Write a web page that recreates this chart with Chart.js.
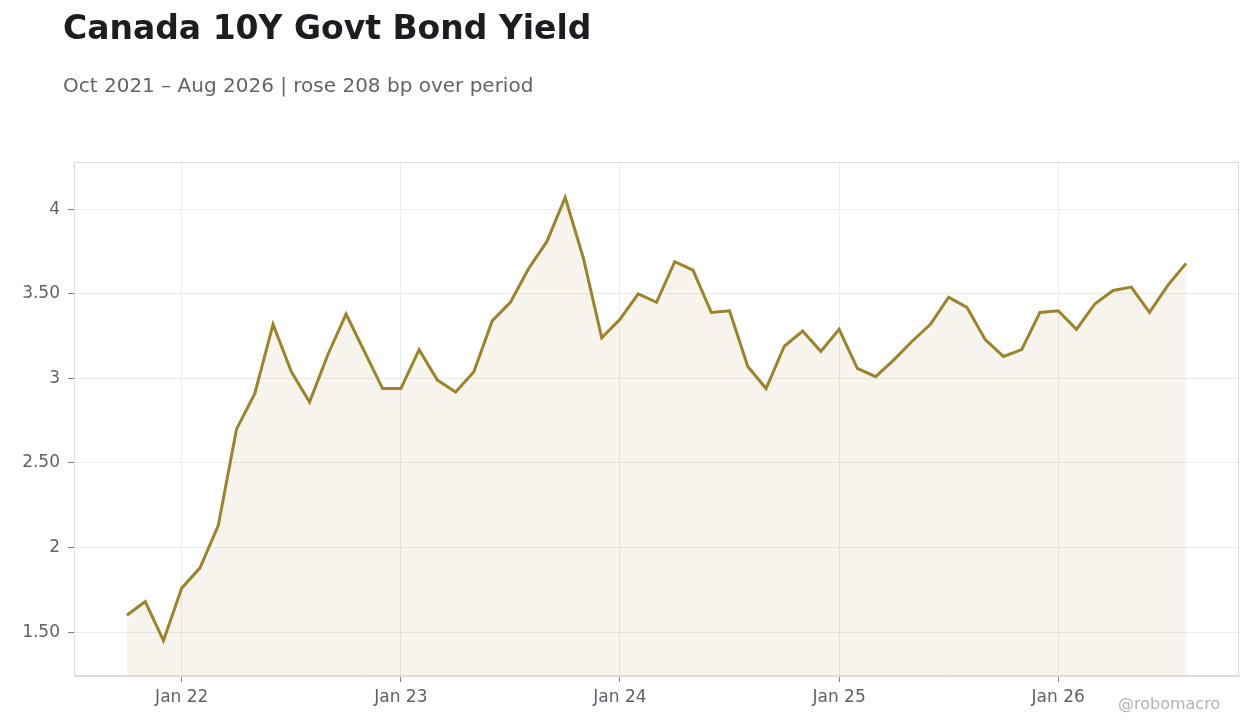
<!DOCTYPE html>
<html>
<head>
<meta charset="utf-8">
<title>Canada 10Y Govt Bond Yield</title>
<script src="https://cdn.jsdelivr.net/npm/chart.js@4.4.1/dist/chart.umd.min.js"></script>
<style>
    html, body { margin: 0; padding: 0; background: #fff; }
    body { width: 1260px; height: 728px; position: relative; overflow: hidden; font-family: "DejaVu Sans", sans-serif; }
    #wrap { position: absolute; left: 0; top: 0; width: 1260px; height: 728px; }
    .title { position: absolute; left: 63px; top: 8px; font-size: 33px; font-weight: bold; color: #1c1c21; white-space: nowrap; }
    .subtitle { position: absolute; left: 63px; top: 73px; font-size: 20px; color: #62646b; white-space: nowrap; }
    .credit { position: absolute; left: 1118px; top: 694px; font-size: 16px; color: #b3b3b3; white-space: nowrap; }
</style>
</head>
<body>
<div id="wrap"><canvas id="yield-chart" width="1260" height="728"></canvas></div>
<div class="title">Canada 10Y Govt Bond Yield</div>
<div class="subtitle">Oct 2021 – Aug 2026 | rose 208 bp over period</div>
<div class="credit">@robomacro</div>
<script>
// Monthly observations, Oct 2021 .. Aug 2026
const months = [
    'Oct 21', 'Nov 21', 'Dec 21',
    'Jan 22', 'Feb 22', 'Mar 22', 'Apr 22', 'May 22', 'Jun 22', 'Jul 22', 'Aug 22', 'Sep 22', 'Oct 22', 'Nov 22', 'Dec 22',
    'Jan 23', 'Feb 23', 'Mar 23', 'Apr 23', 'May 23', 'Jun 23', 'Jul 23', 'Aug 23', 'Sep 23', 'Oct 23', 'Nov 23', 'Dec 23',
    'Jan 24', 'Feb 24', 'Mar 24', 'Apr 24', 'May 24', 'Jun 24', 'Jul 24', 'Aug 24', 'Sep 24', 'Oct 24', 'Nov 24', 'Dec 24',
    'Jan 25', 'Feb 25', 'Mar 25', 'Apr 25', 'May 25', 'Jun 25', 'Jul 25', 'Aug 25', 'Sep 25', 'Oct 25', 'Nov 25', 'Dec 25',
    'Jan 26', 'Feb 26', 'Mar 26', 'Apr 26', 'May 26', 'Jun 26', 'Jul 26', 'Aug 26'
];
const yields = [
    1.60, 1.68, 1.45,
    1.76, 1.88, 2.13, 2.70, 2.91, 3.32, 3.04, 2.86, 3.14, 3.38, 3.16, 2.94,
    2.94, 3.17, 2.99, 2.92, 3.04, 3.34, 3.45, 3.65, 3.81, 4.07, 3.71, 3.24,
    3.35, 3.50, 3.45, 3.69, 3.64, 3.39, 3.40, 3.07, 2.94, 3.19, 3.28, 3.16,
    3.29, 3.06, 3.01, 3.11, 3.22, 3.32, 3.48, 3.42, 3.23, 3.13, 3.17, 3.39,
    3.40, 3.29, 3.44, 3.52, 3.54, 3.39, 3.55, 3.68
];
const yTicks = [1.5, 2, 2.5, 3, 3.5, 4];
const xTickLabels = ['Jan 22', 'Jan 23', 'Jan 24', 'Jan 25', 'Jan 26'];

const LINE = '#9b8429';
const FILL = 'rgba(155, 132, 41, 0.085)';
const GRID = '#ececec';
const TICK = '#7d8088';
const TEXT = '#5f626a';

// x ticks sit on the month index of each label
const xTickIndex = xTickLabels.map(l => months.indexOf(l));

// pad both axes like the source (5% on x, 8% on y)
const xPad = (months.length - 1) * 0.05;
const yLo = Math.min(...yields), yHi = Math.max(...yields);
const yPad = (yHi - yLo) * 0.08;

// box around the whole plot area
const plotFrame = {
    id: 'plotFrame',
    afterDraw(chart) {
        const { ctx, chartArea: a } = chart;
        ctx.save();
        ctx.strokeStyle = '#dcdcdf';
        ctx.lineWidth = 1;
        ctx.strokeRect(a.left + 0.5, a.top + 0.5, a.right - a.left - 1, a.bottom - a.top - 1);
        ctx.restore();
    }
};

function yLabel(v) {
    return Number.isInteger(v) ? String(v) : v.toFixed(2);
}

const ctx = document.getElementById('yield-chart');
new Chart(ctx, {
    type: 'line',
    data: {
        datasets: [{
            label: 'Canada 10Y',
            data: yields.map((v, i) => ({ x: i, y: v })),
            borderColor: LINE,
            backgroundColor: FILL,
            borderWidth: 3,
            fill: 'start',
            tension: 0,
            pointRadius: 0,
            borderJoinStyle: 'miter'
        }]
    },
    options: {
        responsive: false,
        animation: false,
        devicePixelRatio: 1,
        layout: { padding: { top: 162, right: 21, left: 0, bottom: 0 } },
        plugins: {
            legend: { display: false },
            tooltip: { enabled: false }
        },
        scales: {
            x: {
                type: 'linear',
                min: -xPad,
                max: months.length - 1 + xPad,
                afterBuildTicks: (axis) => { axis.ticks = xTickIndex.map(v => ({ value: v })); },
                afterFit: (axis) => { axis.height = 52; },
                ticks: {
                    callback: (v) => months[v],
                    color: TEXT,
                    font: { family: 'DejaVu Sans', size: 17 },
                    padding: 5,
                    maxRotation: 0
                },
                grid: { color: GRID, tickColor: TICK, tickLength: 6 },
                border: { color: '#dcdcdf' }
            },
            y: {
                min: yLo - yPad,
                max: yHi + yPad,
                afterBuildTicks: (axis) => { axis.ticks = yTicks.map(v => ({ value: v })); },
                afterFit: (axis) => { axis.width = 74; },
                ticks: {
                    callback: (v) => yLabel(v),
                    color: TEXT,
                    font: { family: 'DejaVu Sans', size: 17 },
                    padding: 8
                },
                grid: { color: GRID, tickColor: TICK, tickLength: 6 },
                border: { color: '#dcdcdf' }
            }
        }
    },
    plugins: [plotFrame]
});
</script>
</body>
</html>
